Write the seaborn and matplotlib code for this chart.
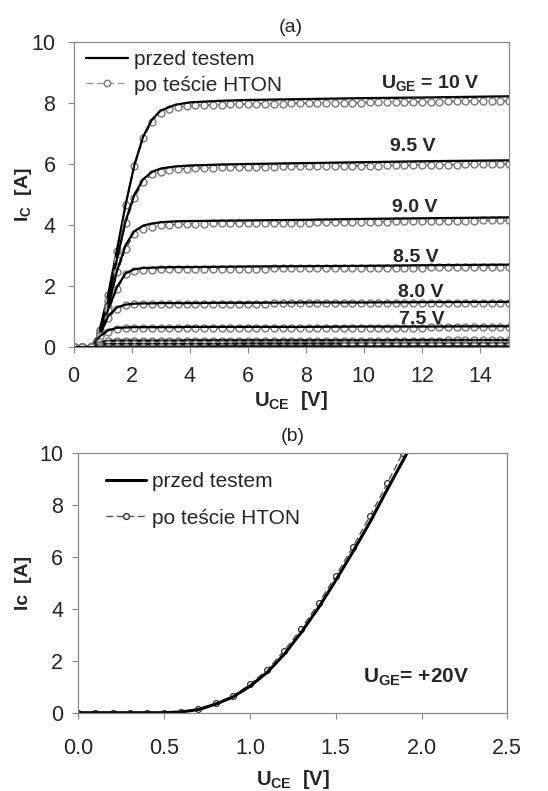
import matplotlib
matplotlib.use("Agg")
import matplotlib.pyplot as plt
from matplotlib.lines import Line2D
import seaborn as sns

sns.set_theme(style="white")
plt.rcParams["font.family"] = ["Liberation Sans", "DejaVu Sans"]
plt.rcParams["mathtext.fontset"] = "custom"
plt.rcParams["mathtext.rm"] = "Liberation Sans"
plt.rcParams["mathtext.bf"] = "Liberation Sans:bold"

# ---- (a) output characteristics, several U_GE ----
# solid curves ("przed testem") read at sparse U_CE points
uce_solid = [0.0, 0.7, 0.9, 1.2, 1.5, 1.8, 2.1, 2.4, 2.7, 3.0, 3.5, 4.0, 5.0, 6.0, 8.0, 10.0, 12.0, 15.0]
ic_solid = {
    "10": [0, 0, 0.55, 1.75, 3.2, 4.7, 5.98, 6.9, 7.45, 7.75, 7.94, 8.02, 8.07, 8.1, 8.13, 8.16, 8.18, 8.22],
    "9.5": [0, 0, 0.5, 1.55, 2.9, 4.15, 5.0, 5.5, 5.74, 5.85, 5.92, 5.95, 5.98, 6.0, 6.03, 6.06, 6.09, 6.12],
    "9.0": [0, 0, 0.45, 1.35, 2.5, 3.35, 3.8, 3.98, 4.05, 4.09, 4.12, 4.13, 4.14, 4.15, 4.17, 4.2, 4.22, 4.25],
    "8.5": [0, 0, 0.4, 1.25, 1.97, 2.42, 2.55, 2.59, 2.6, 2.61, 2.62, 2.62, 2.63, 2.64, 2.65, 2.66, 2.68, 2.7],
    "8.0": [0, 0, 0.38, 1.02, 1.3, 1.39, 1.42, 1.43, 1.43, 1.44, 1.44, 1.44, 1.45, 1.45, 1.46, 1.46, 1.47, 1.48],
    "7.5": [0, 0, 0.35, 0.55, 0.63, 0.64, 0.65, 0.65, 0.65, 0.65, 0.65, 0.66, 0.66, 0.66, 0.66, 0.67, 0.67, 0.68],
    "7.0": [0, 0, 0.15, 0.2, 0.21, 0.21, 0.21, 0.21, 0.21, 0.21, 0.21, 0.22, 0.22, 0.22, 0.22, 0.22, 0.23, 0.23],
    "6.5": [0, 0, 0.07, 0.1, 0.1, 0.1, 0.1, 0.1, 0.1, 0.1, 0.1, 0.1, 0.1, 0.11, 0.11, 0.11, 0.11, 0.11],
    "6.0": [0, 0, 0.01, 0.01, 0.01, 0.01, 0.01, 0.01, 0.01, 0.01, 0.01, 0.01, 0.02, 0.02, 0.02, 0.02, 0.02, 0.02],
}

# measured points ("po teście HTON"), every 0.3 V
uce_meas = [0.0, 0.3, 0.6, 0.9, 1.2, 1.5, 1.8, 2.1, 2.4, 2.7, 3.0, 3.3, 3.6, 3.9, 4.2, 4.5, 4.8,
            5.1, 5.4, 5.7, 6.0, 6.3, 6.6, 6.9, 7.2, 7.5, 7.8, 8.1, 8.4, 8.7, 9.0, 9.3, 9.6, 9.9,
            10.2, 10.5, 10.8, 11.1, 11.4, 11.7, 12.0, 12.3, 12.6, 12.9, 13.2, 13.5, 13.8, 14.1,
            14.4, 14.7, 15.0]
ic_meas = {
    "10": [0, 0, 0, 0.55, 1.7, 3.15, 4.65, 5.93, 6.86, 7.38, 7.67, 7.8, 7.86, 7.9, 7.92, 7.93, 7.94,
           7.95, 7.96, 7.96, 7.97, 7.97, 7.98, 7.98, 7.98, 7.99, 7.99, 7.99, 8.0, 8.0, 8.0, 8.01,
           8.01, 8.01, 8.02, 8.02, 8.02, 8.03, 8.03, 8.03, 8.04, 8.04, 8.04, 8.05, 8.05, 8.05,
           8.06, 8.06, 8.06, 8.07, 8.07],
    "9.5": [0, 0, 0, 0.5, 1.5, 2.84, 4.07, 4.9, 5.41, 5.66, 5.75, 5.8, 5.83, 5.85, 5.86, 5.87, 5.88,
            5.89, 5.89, 5.9, 5.9, 5.91, 5.91, 5.91, 5.92, 5.92, 5.92, 5.93, 5.93, 5.93, 5.94, 5.94,
            5.94, 5.95, 5.95, 5.95, 5.96, 5.96, 5.96, 5.97, 5.97, 5.97, 5.98, 5.98, 5.98, 5.99,
            5.99, 5.99, 6.0, 6.0, 6.0],
    "9.0": [0, 0, 0, 0.45, 1.3, 2.45, 3.22, 3.72, 3.88, 3.95, 3.99, 4.01, 4.02, 4.03, 4.04, 4.04, 4.05,
            4.05, 4.05, 4.06, 4.06, 4.06, 4.07, 4.07, 4.07, 4.08, 4.08, 4.08, 4.09, 4.09, 4.09, 4.1,
            4.1, 4.1, 4.11, 4.11, 4.11, 4.12, 4.12, 4.12, 4.13, 4.13, 4.13, 4.14, 4.14, 4.14, 4.14,
            4.15, 4.15, 4.15, 4.15],
    "8.5": [0, 0, 0, 0.4, 1.2, 1.91, 2.4, 2.49, 2.52, 2.54, 2.55, 2.55, 2.56, 2.56, 2.56, 2.56, 2.57,
            2.57, 2.57, 2.57, 2.57, 2.57, 2.57, 2.58, 2.58, 2.58, 2.58, 2.58, 2.58, 2.59, 2.59, 2.59,
            2.59, 2.59, 2.59, 2.6, 2.6, 2.6, 2.6, 2.6, 2.6, 2.61, 2.61, 2.61, 2.61, 2.61, 2.61, 2.62,
            2.62, 2.62, 2.62],
    "8.0": [0, 0, 0, 0.38, 0.95, 1.26, 1.37, 1.4, 1.41, 1.41, 1.41, 1.41, 1.41, 1.41, 1.42, 1.42, 1.42,
            1.42, 1.42, 1.42, 1.42, 1.42, 1.42, 1.43, 1.43, 1.43, 1.43, 1.43, 1.43, 1.43, 1.43, 1.43,
            1.44, 1.44, 1.44, 1.44, 1.44, 1.44, 1.44, 1.44, 1.44, 1.44, 1.45, 1.45, 1.45, 1.45, 1.45,
            1.45, 1.45, 1.45, 1.45],
    "7.5": [0, 0, 0, 0.35, 0.5, 0.6, 0.61, 0.61, 0.62, 0.62, 0.62, 0.62, 0.62, 0.62, 0.62, 0.62, 0.62,
            0.62, 0.62, 0.62, 0.62, 0.62, 0.62, 0.62, 0.62, 0.62, 0.62, 0.62, 0.62, 0.62, 0.62, 0.63,
            0.63, 0.63, 0.63, 0.63, 0.63, 0.63, 0.63, 0.63, 0.63, 0.64, 0.64, 0.64, 0.64, 0.64, 0.64,
            0.64, 0.65, 0.65, 0.65],
    "7.0": [0, 0, 0, 0.17, 0.2, 0.2, 0.2, 0.2, 0.2, 0.2, 0.2, 0.2, 0.2, 0.2, 0.2, 0.2, 0.2, 0.2, 0.2,
            0.2, 0.2, 0.2, 0.2, 0.2, 0.2, 0.2, 0.2, 0.21, 0.21, 0.21, 0.21, 0.21, 0.21, 0.21, 0.21,
            0.21, 0.21, 0.21, 0.21, 0.21, 0.21, 0.21, 0.21, 0.22, 0.22, 0.22, 0.22, 0.22, 0.22, 0.22,
            0.22],
    "6.5": [0, 0, 0, 0.08, 0.1, 0.1, 0.1, 0.1, 0.1, 0.1, 0.1, 0.1, 0.1, 0.1, 0.1, 0.1, 0.1, 0.1, 0.1,
            0.1, 0.1, 0.1, 0.1, 0.1, 0.1, 0.1, 0.1, 0.1, 0.1, 0.1, 0.1, 0.1, 0.1, 0.1, 0.1, 0.1, 0.1,
            0.11, 0.11, 0.11, 0.11, 0.11, 0.11, 0.11, 0.11, 0.11, 0.11, 0.11, 0.11, 0.11, 0.11],
    "6.0": [0, 0, 0, 0.01, 0.01, 0.01, 0.01, 0.01, 0.01, 0.01, 0.01, 0.01, 0.01, 0.01, 0.01, 0.01,
            0.01, 0.01, 0.01, 0.01, 0.01, 0.01, 0.01, 0.01, 0.01, 0.01, 0.01, 0.01, 0.01, 0.01, 0.01,
            0.02, 0.02, 0.02, 0.02, 0.02, 0.02, 0.02, 0.02, 0.02, 0.02, 0.02, 0.02, 0.02, 0.02, 0.02,
            0.02, 0.02, 0.02, 0.02, 0.02],
}

# curve labels (a)
label_text = [r"$\mathbf{U_{GE}}$ = 10 V", "9.5 V", "9.0 V", "8.5 V", "8.0 V", "7.5 V"]
label_x = [12.3, 11.7, 11.75, 11.8, 11.95, 12.0]
label_y = [8.66, 6.56, 4.59, 2.95, 1.8, 0.89]

# ---- (b) U_GE = +20 V ----
uce_b_solid = [0.0, 0.5, 0.6, 0.7, 0.8, 0.9, 1.0, 1.1, 1.2, 1.3, 1.4, 1.5, 1.6, 1.7, 1.8, 1.915]
ic_b_solid = [0, 0, 0.03, 0.12, 0.33, 0.6, 1.02, 1.55, 2.25, 3.1, 4.05, 5.1, 6.2, 7.35, 8.6, 10.0]
uce_b_meas = [0.0, 0.1, 0.2, 0.3, 0.4, 0.5, 0.6, 0.7, 0.8, 0.9, 1.0, 1.1, 1.2, 1.3, 1.4, 1.5,
              1.6, 1.7, 1.8, 1.89]
ic_b_meas = [0, 0, 0, 0, 0, 0, 0.04, 0.14, 0.36, 0.64, 1.09, 1.65, 2.39, 3.24, 4.22, 5.27,
             6.4, 7.58, 8.84, 10.0]

W, H = 548, 791
fig = plt.figure(figsize=(W / 100, H / 100), dpi=100)
ax_a = fig.add_axes([73.5 / W, 1 - 347 / H, (509 - 73.5) / W, (347 - 42) / H])
ax_b = fig.add_axes([78.3 / W, 1 - 712.7 / H, (507.3 - 78.3) / W, (712.7 - 453.3) / H])

grey = "#7a7a7a"
dash = (0, (5, 2.5))

for key in ic_solid:
    sns.lineplot(x=uce_meas, y=ic_meas[key], ax=ax_a, color="#444444", lw=1.0, linestyle=dash,
                 marker="o", markersize=5, markerfacecolor="white", markeredgecolor=grey,
                 markeredgewidth=1.0, estimator=None, errorbar=None, sort=False)
    sns.lineplot(x=uce_solid, y=ic_solid[key], ax=ax_a, color="black", lw=1.6,
                 estimator=None, errorbar=None, sort=False)

for t, x, y in zip(label_text, label_x, label_y):
    ax_a.text(x, y, t, ha="center", va="center", fontsize=14, fontweight="bold")

sns.lineplot(x=uce_b_meas, y=ic_b_meas, ax=ax_b, color="#555555", lw=1.0, linestyle=dash,
             marker="o", markersize=4.2, markerfacecolor="white", markeredgecolor="#333333",
             markeredgewidth=0.9, estimator=None, errorbar=None, sort=False)
sns.lineplot(x=uce_b_solid, y=ic_b_solid, ax=ax_b, color="black", lw=2.2,
             estimator=None, errorbar=None, sort=False)
ax_b.text(1.97, 1.38, r"$\mathbf{U_{GE}}$= +20V", ha="center", va="center",
          fontsize=15, fontweight="bold")

ax_a.set_xlim(0, 15)
ax_a.set_xticks([0, 2, 4, 6, 8, 10, 12, 14])
ax_b.set_xlim(0, 2.5)
ax_b.set_xticks([0.0, 0.5, 1.0, 1.5, 2.0, 2.5])
ax_b.set_xticklabels(["0.0", "0.5", "1.0", "1.5", "2.0", "2.5"])

for ax in (ax_a, ax_b):
    ax.set_ylim(0, 10)
    ax.set_yticks([0, 2, 4, 6, 8, 10])
    ax.tick_params(direction="out", length=4, width=0.8, color="#888888",
                   labelsize=15.5, bottom=True, left=True)
    for s in ax.spines.values():
        s.set_color("#888888")
        s.set_linewidth(0.9)

ax_a.tick_params(axis="x", pad=10)
ax_a.tick_params(axis="y", pad=9)
ax_b.tick_params(axis="x", pad=14)
ax_b.tick_params(axis="y", pad=7)

ax_a.set_xlabel(r"$\mathbf{U_{CE}}$  [V]", fontsize=14.5, fontweight="bold", labelpad=1)
ax_b.set_xlabel(r"$\mathbf{U_{CE}}$  [V]", fontsize=14.5, fontweight="bold", labelpad=7)
ax_a.set_ylabel(r"$\mathbf{I_C}$  [A]", fontsize=14, fontweight="bold", labelpad=-2)
ax_b.set_ylabel("Ic  [A]", fontsize=14, fontweight="bold", labelpad=5)
ax_a.set_title("(a)", fontsize=14, pad=7)
ax_b.set_title("(b)", fontsize=14, pad=9)

h_a = [Line2D([], [], color="black", lw=1.6),
       Line2D([], [], color="#9a9a9a", lw=1.0, linestyle=dash, marker="o", markersize=4.6,
              markerfacecolor="white", markeredgecolor=grey)]
ax_a.legend(h_a, ["przed testem", "po teście HTON"], loc="upper left", frameon=False,
            fontsize=15, handlelength=2.0, handletextpad=0.3, labelspacing=0.3,
            borderaxespad=0.0, bbox_to_anchor=(0.01, 1.0))
h_b = [Line2D([], [], color="black", lw=2.2),
       Line2D([], [], color="#555555", lw=1.0, linestyle=dash, marker="o", markersize=4.2,
              markerfacecolor="white", markeredgecolor="#333333")]
ax_b.legend(h_b, ["przed testem", "po teście HTON"], loc="upper left", frameon=False,
            fontsize=15, handlelength=1.9, handletextpad=0.3, labelspacing=0.85,
            borderaxespad=0.0, bbox_to_anchor=(0.045, 0.96))

fig.savefig("out.png", dpi=100)
